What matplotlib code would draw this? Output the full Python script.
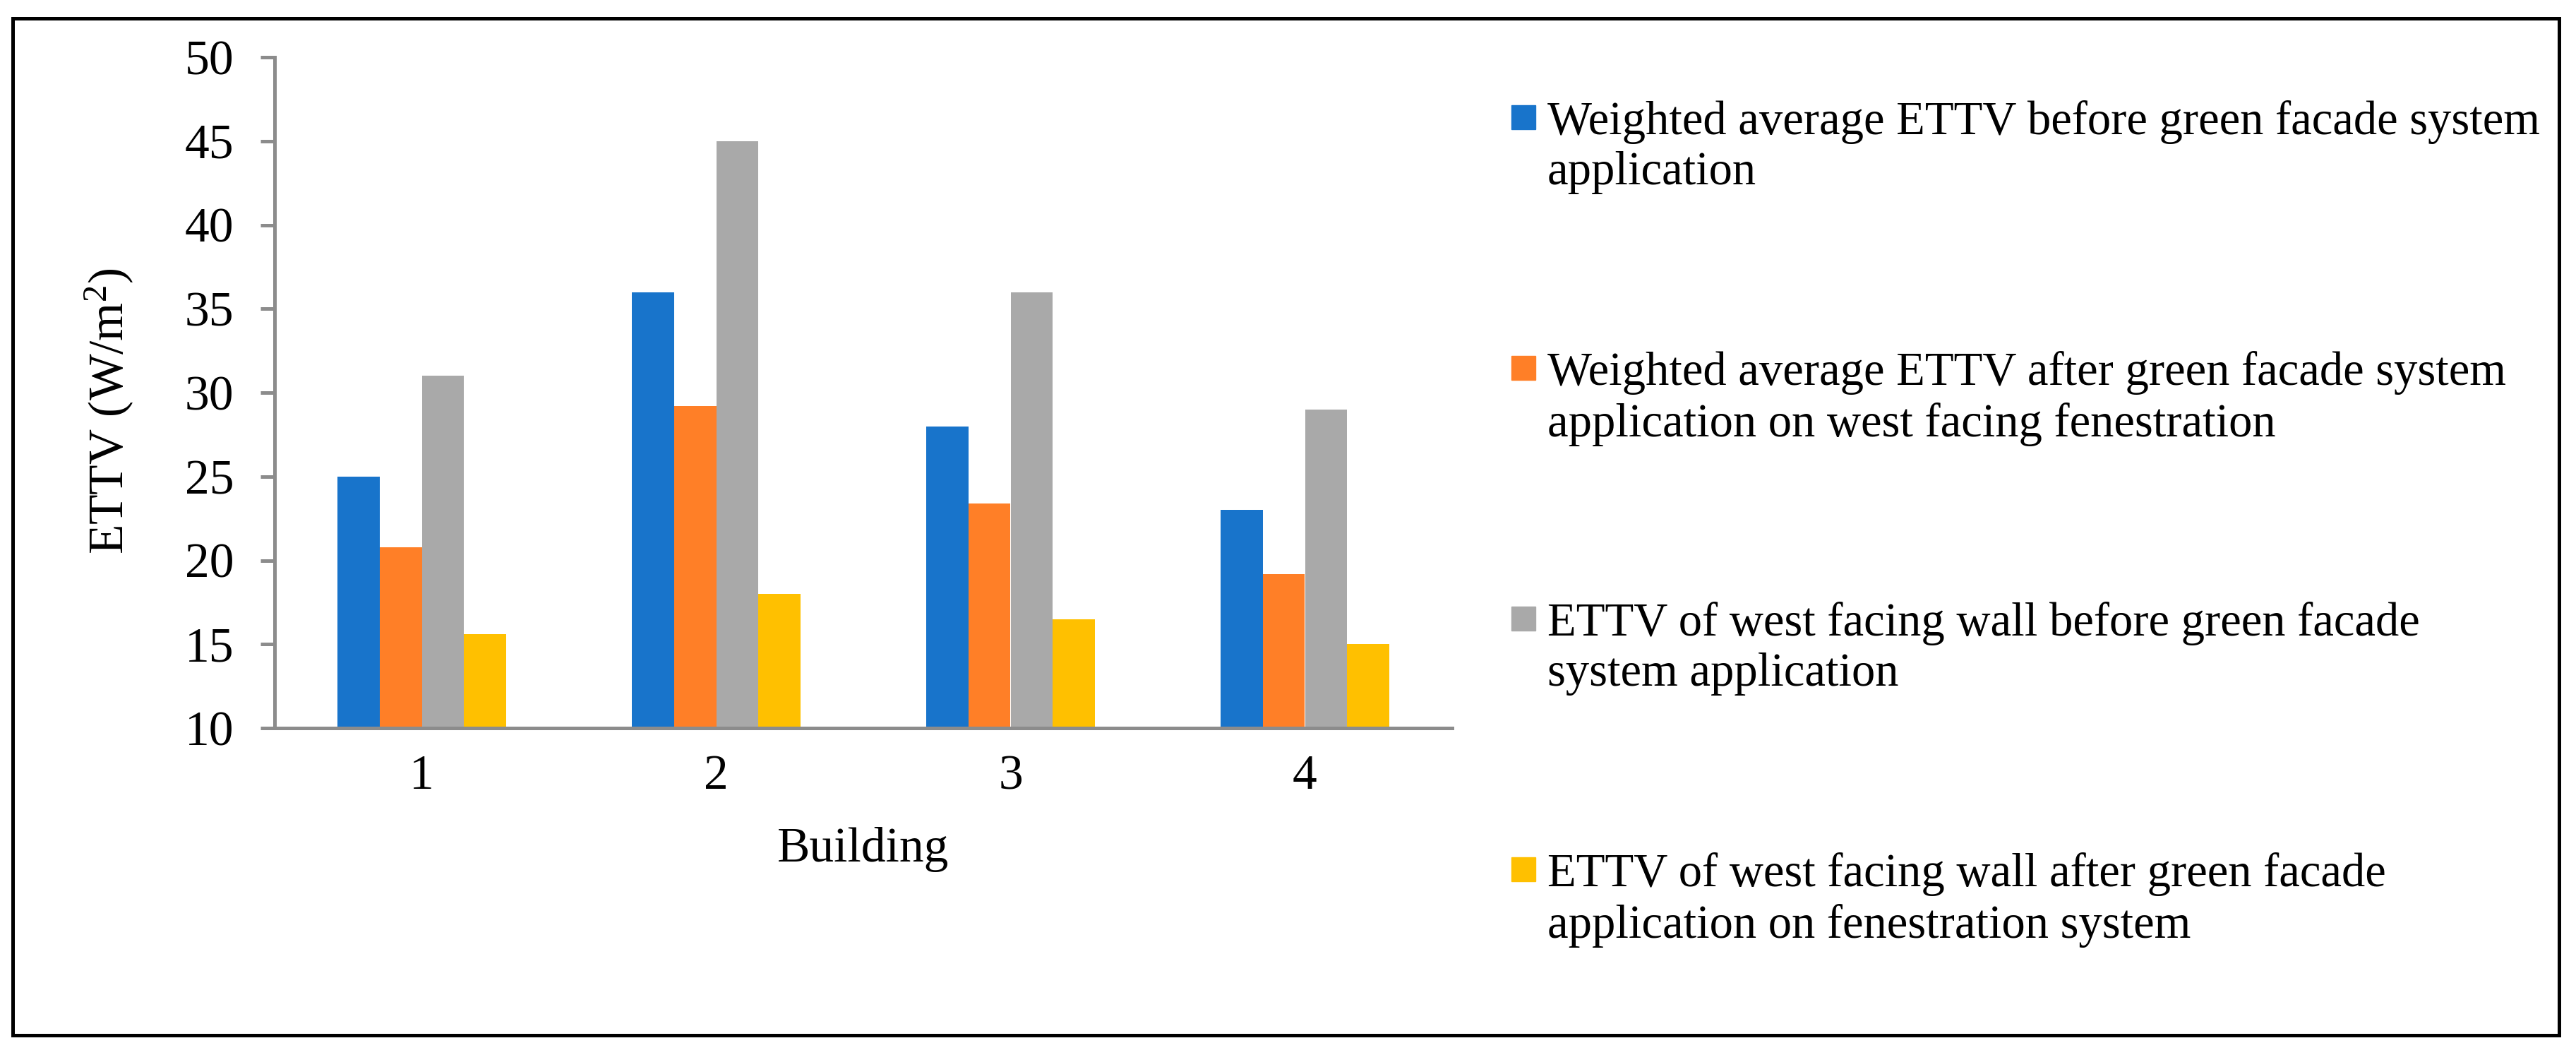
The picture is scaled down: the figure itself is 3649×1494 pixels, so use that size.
import numpy as np
import matplotlib
matplotlib.use("Agg")
from matplotlib import pyplot as plt
from matplotlib.patches import Rectangle

# data
buildings = ["1", "2", "3", "4"]
series_labels = [
    "Weighted average ETTV before green facade system\napplication",
    "Weighted average ETTV after green facade system\napplication on west facing fenestration",
    "ETTV of west facing wall before green facade\nsystem application",
    "ETTV of west facing wall after green facade\napplication on fenestration system",
]
avg_before = [25, 36, 28, 23]
avg_after = [20.8, 29.2, 23.4, 19.2]
wall_before = [31, 45, 36, 29]
wall_after = [15.6, 18, 16.5, 15.0]
colors = ["#1874CB", "#FF7F27", "#A9A9A9", "#FFC000"]
y_ticks = [10, 15, 20, 25, 30, 35, 40, 45, 50]

plt.rcParams["font.family"] = ["Liberation Serif", "DejaVu Serif"]
plt.rcParams["mathtext.fontset"] = "custom"
plt.rcParams["mathtext.rm"] = "Liberation Serif"
plt.rcParams["mathtext.it"] = "Liberation Serif:italic"
plt.rcParams["mathtext.bf"] = "Liberation Serif:bold"

W, H = 3649, 1494
fig = plt.figure(figsize=(W / 100, H / 100), dpi=100)
ax = fig.add_axes([389 / W, 1 - 1031 / H, (2057 - 389) / W, (1031 - 81) / H])

axis_grey = "#8C8C8C"
fs = 50
legend_fs = 48

x = np.arange(1, len(buildings) + 1)
width = 0.1435
all_series = [avg_before, avg_after, wall_before, wall_after]
for i, (vals, col, lab) in enumerate(zip(all_series, colors, series_labels)):
    ax.bar(x + (i - 1.5) * width, vals, width=width, color=col, label=lab, zorder=2)

ax.set_xlim(0.5, 4.5)
ax.set_ylim(10, 50)
ax.set_yticks(y_ticks)
ax.set_xticks(x)
ax.set_xticklabels(buildings)

for side in ["top", "right"]:
    ax.spines[side].set_visible(False)
for side in ["left", "bottom"]:
    ax.spines[side].set_color(axis_grey)
    ax.spines[side].set_linewidth(3.6)
ax.spines["bottom"].set_zorder(3)

ax.tick_params(axis="y", direction="out", length=14.4, width=3.6, color=axis_grey,
               labelsize=fs, pad=27)
ax.tick_params(axis="x", length=0, labelsize=fs, pad=27)

ax.set_ylabel(r"ETTV (W/m$^{2}$)", fontsize=fs)
ax.yaxis.set_label_coords(-0.118, 0.4726)
ax.set_xlabel("Building", fontsize=fs, va="top")
ax.xaxis.set_label_coords(0.5, -0.147)

# legend on the right, square aligned with first line of each label
for i, (col, lab) in enumerate(zip(colors, series_labels)):
    top = 149 + i * 355
    fig.add_artist(Rectangle((2141 / W, 1 - (top + 34) / H), 34 / W, 34 / H,
                             transform=fig.transFigure, color=col))
    fig.text(2192 / W, 1 - (142 + i * 355) / H, lab, fontsize=legend_fs,
             va="top", ha="left", linespacing=1.22)

# outer frame
fig.add_artist(Rectangle((18 / W, 1 - 1466 / H), (3625 - 18) / W, (1466 - 26) / H,
                         transform=fig.transFigure, fill=False, edgecolor="black",
                         linewidth=3.6))

fig.savefig("out.png", dpi=100, facecolor="white")
